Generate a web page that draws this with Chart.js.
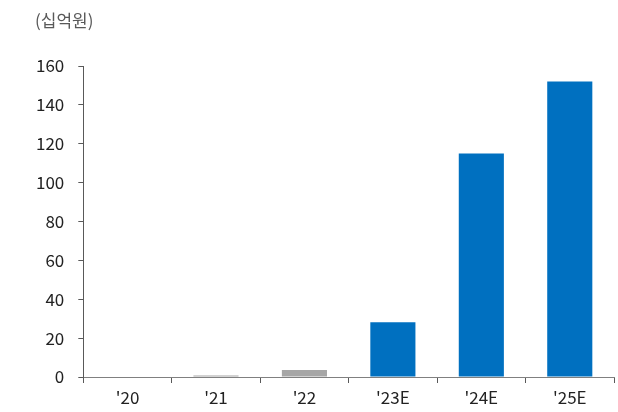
<!DOCTYPE html>
<html>
<head>
<meta charset="utf-8">
<script src="https://cdn.jsdelivr.net/npm/chart.js@4"></script>
<style>
  body { margin: 0; background: #fff; }
  #wrap { position: relative; width: 618px; height: 412px; }
  #unit { position: absolute; left: 35px; top: 7px; font: 17px "Noto Sans CJK KR", sans-serif; color: #595959; }
</style>
</head>
<body>
<div id="wrap">
  <div id="unit">(십억원)</div>
  <canvas id="chart" width="618" height="412"></canvas>
</div>
<script>
// Yearly values, KRW billion
const years = ["'20", "'21", "'22", "'23E", "'24E", "'25E"];
const values = [0, 0.8, 3.6, 28.2, 115, 152];
const barColors = ['#a6a6a6', '#a6a6a6', '#a6a6a6', '#0070c0', '#0070c0', '#0070c0'];

const font = { family: '"Noto Sans CJK KR", sans-serif', size: 17 };

new Chart(document.getElementById('chart').getContext('2d'), {
    type: 'bar',
    data: {
        labels: years,
        datasets: [{ data: values, backgroundColor: barColors, categoryPercentage: 1, barPercentage: 0.51 }]
    },
    options: {
        responsive: false,
        animation: false,
        layout: { padding: { top: 66, left: 22, right: 4, bottom: 0 } },
        plugins: { legend: { display: false }, tooltip: { enabled: false } },
        scales: {
            x: {
                grid: { drawOnChartArea: false, offset: true, tickLength: 6, color: '#595959' },
                border: { color: '#808080' },
                ticks: { color: '#222', font: { ...font, lineHeight: 1 }, padding: 6 }
            },
            y: {
                min: 0, max: 160,
                grid: { drawOnChartArea: false, tickLength: 5, color: '#595959' },
                border: { color: '#595959' },
                ticks: { stepSize: 20, color: '#222', font: font, padding: 14 }
            }
        }
    }
});
</script>
</body>
</html>
